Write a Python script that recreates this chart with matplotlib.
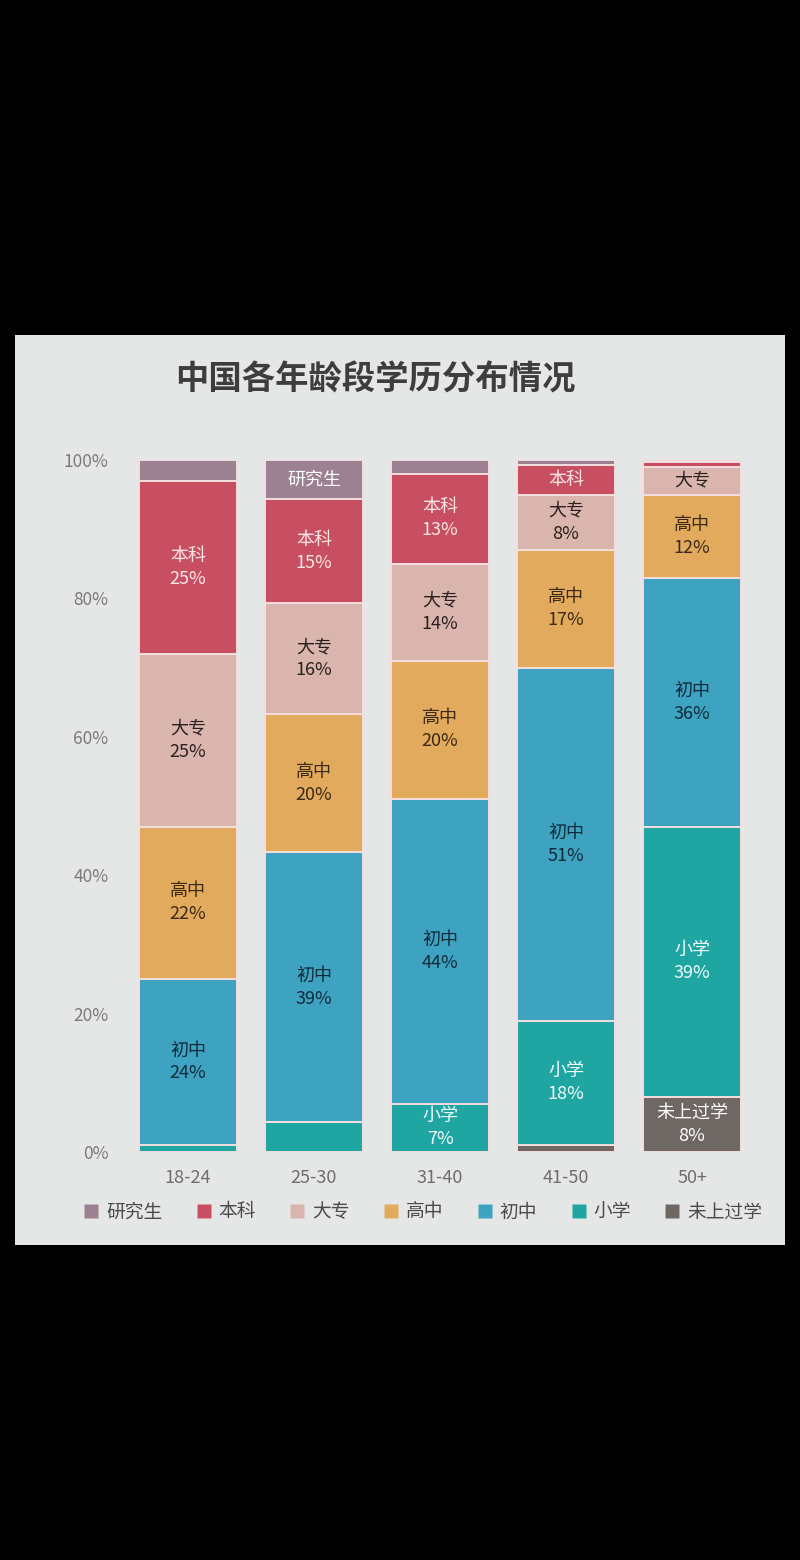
import matplotlib
matplotlib.use("Agg")
import matplotlib.pyplot as plt
from matplotlib.patches import Rectangle
from matplotlib.lines import Line2D
import numpy as np

plt.rcParams['font.family'] = ['Noto Sans CJK SC', 'DejaVu Sans']

# ---------------- data ----------------
groups = ['18-24', '25-30', '31-40', '41-50', '50+']
series_names = ['未上过学', '小学', '初中', '高中', '大专', '本科', '研究生']  # bottom -> top
none_school = [0, 0, 0, 1.0, 8]
primary     = [1, 4.3, 7, 18, 39]
junior      = [24, 39, 44, 51, 36]
senior      = [22, 20, 20, 17, 12]
college     = [25, 16, 14, 8, 4]
bachelor    = [25, 15, 13, 4.3, 0.7]
graduate    = [3, 5.7, 2, 0.7, 0.3]
values = [none_school, primary, junior, senior, college, bachelor, graduate]
yticks = [0, 20, 40, 60, 80, 100]
title = '中国各年龄段学历分布情况'
legend_order = ['研究生', '本科', '大专', '高中', '初中', '小学', '未上过学']

colors = {
    '研究生': '#9c8192',
    '本科': '#c84f61',
    '大专': '#d9b5ad',
    '高中': '#e2aa5c',
    '初中': '#3ea3c0',
    '小学': '#1fa6a3',
    '未上过学': '#6f6764',
}
text_colors = {
    '研究生': 'white', '本科': '#fbe6e6', '大专': '#2a2020', '高中': '#3a2a15',
    '初中': '#0f2a3a', '小学': '#f2fbfb', '未上过学': 'white',
}
# label mode: 'full' = name + percent, 'name' = name only, None = no label
label_mode = {
    ('研究生', 1): 'name',
    ('本科', 3): 'name',
    ('大专', 4): 'name',
}
min_full = 6.5

# ---------------- figure ----------------
W, H = 800, 1560
fig = plt.figure(figsize=(W / 100, H / 100), dpi=100, facecolor='black')

# light panel
panel = Rectangle((15 / W, 1 - 1245 / H), 770 / W, (1245 - 335) / H,
                  transform=fig.transFigure, facecolor='#e5e7e7',
                  edgecolor='none', zorder=-10)
fig.patches.append(panel)

ax = fig.add_axes([125 / W, 1 - 1152 / H, 630 / W, (1152 - 460) / H])
ax.set_facecolor('none')
ax.set_zorder(5)

x = np.arange(len(groups))
bottom = np.zeros(len(groups))
for name, vals in zip(series_names, values):
    vals = np.array(vals, dtype=float)
    ax.bar(x, vals, width=0.77, bottom=bottom, color=colors[name],
           edgecolor='#f4dede', linewidth=1.4, zorder=2)
    for i, v in enumerate(vals):
        mode = label_mode.get((name, i))
        if mode is None and v >= min_full:
            mode = 'full'
        if mode is None:
            continue
        txt = name if mode == 'name' else f'{name}\n{v:.0f}%'
        ax.text(x[i], bottom[i] + v / 2, txt, ha='center', va='center',
                fontsize=13, color=text_colors[name], linespacing=1.35,
                zorder=3)
    bottom += vals

ax.set_xlim(-0.5, len(groups) - 0.5)
ax.set_ylim(0, 100)
ax.set_yticks(yticks)
ax.set_yticklabels([f'{t}%' for t in yticks], fontsize=12.5, color='#7a7a7a')
ax.set_xticks(x)
ax.set_xticklabels(groups, fontsize=13, color='#6e6e6e')
ax.tick_params(length=0, pad=12)
for s in ax.spines.values():
    s.set_visible(False)

fig.text(375 / W, 1 - 380 / H, title, ha='center', va='center',
         fontsize=24, fontweight='bold', color='#3d3d3d')

handles = [Line2D([0], [0], marker='s', linestyle='none', markersize=10,
                  markerfacecolor=colors[n], markeredgecolor='none')
           for n in legend_order]
fig.legend(handles, legend_order, loc='center', ncol=7,
           bbox_to_anchor=(422 / W, 1 - 1212 / H), frameon=False,
           fontsize=13.5, labelcolor='#4a4a4a', handletextpad=0.3,
           columnspacing=1.7, handlelength=1.0)

fig.savefig('out.png', dpi=100, facecolor='black')
